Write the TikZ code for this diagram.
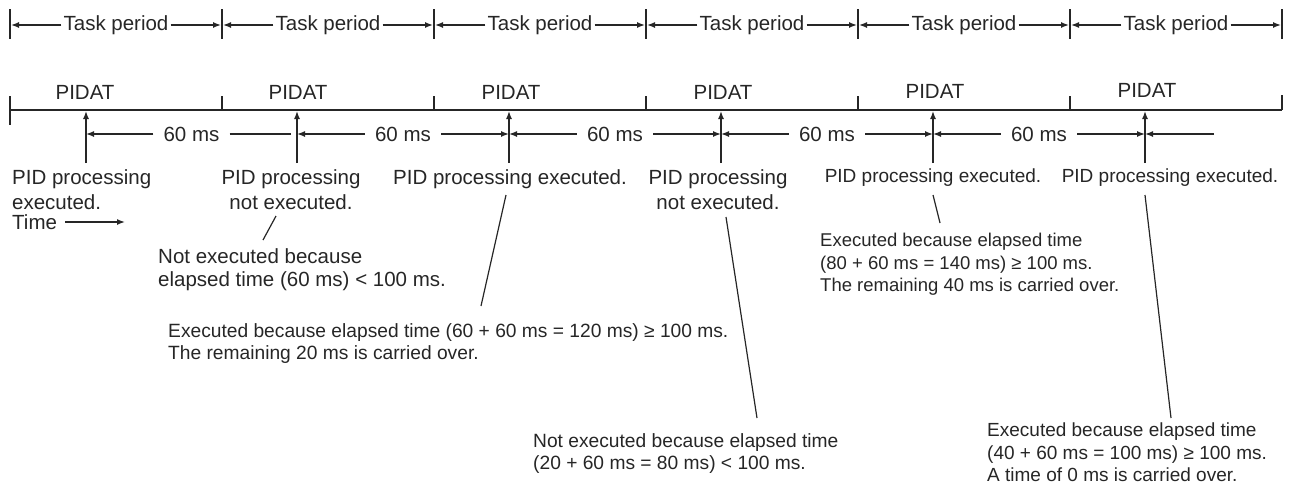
\documentclass[tikz,border=0pt]{standalone}
\usepackage{fontspec}
\setmainfont{Liberation Sans}
\usetikzlibrary{arrows.meta,calc}
\begin{document}
\begin{tikzpicture}[x=1pt,y=-1pt,
  ln/.style={line width=1.4pt, draw=black!85},
  tip/.style={-{Latex[length=8pt,width=6pt]}},
  big/.style={font=\fontsize{20.5}{25}\selectfont, inner sep=0pt, text=black!85},
  mid/.style={font=\fontsize{19}{23}\selectfont, inner sep=0pt, text=black!85},
  low/.style={font=\fontsize{19.2}{22.5}\selectfont, inner sep=0pt, align=left, anchor=north west, text=black!85},
  leader/.style={line width=1.2pt, draw=black!85}]
\useasboundingbox (0,0) rectangle (1293,493);
% top task periods
\foreach \x in {10,222,434,646,858,1070,1282}{\draw[ln] (\x,9) -- (\x,39);}
\foreach \a/\b [count=\i] in {10/222,222/434,434/646,646/858,858/1070,1070/1282}{
  \node[big, inner xsep=2pt] (tp\i) at ({(\a+\b)/2},25) {Task period};
  \coordinate (tl\i) at (\a+1,25);
  \coordinate (tr\i) at (\b-1,25);
  \draw[ln,tip] (tp\i.west) -- (tl\i);
  \draw[ln,tip] (tp\i.east) -- (tr\i);
}
% time line
\coordinate (t0) at (10,110);
\coordinate (t6) at (1282,110);
\draw[ln] (t0) -- (t6);
\draw[ln] (10,96) -- (10,125);
\foreach \x in {222,434,646,858,1070}{\draw[ln] (\x,96) -- (\x,110);}
\draw[ln] (1282,95) -- (1282,110);
% PIDAT labels
\foreach \x/\y [count=\i] in {85/92,298/92,511/92,723/92,935/91,1147/90}{
  \node[big] (pd\i) at (\x,\y) {PIDAT};
}
% up arrows
\foreach \x [count=\i] in {86,297,509,721,933,1145}{
  \coordinate (ub\i) at (\x,163);
  \coordinate (ut\i) at (\x,111);
  \coordinate (um\i) at (\x,134);
  \draw[ln,tip] (ub\i) -- (ut\i);
}
% 60 ms dimensions
\foreach \i/\j in {1/2,2/3,3/4,4/5,5/6}{
  \node[big, inner xsep=10pt] (ms\i) at ($(um\i)!0.5!(um\j)$) {60 ms};
}
\coordinate (ms1r) at (291,134);
\draw[ln,tip] (ms1.west) -- (um1);
\draw[ln] (ms1.east) -- (ms1r);
\foreach \i in {2,3,4,5}{
  \draw[ln,tip] (ms\i.west) -- (um\i);
}
\draw[ln,tip] (ms2.east) -- (um3);
\draw[ln,tip] (ms3.east) -- (um4);
\draw[ln,tip] (ms4.east) -- (um5);
\draw[ln,tip] (ms5.east) -- (um6);
\coordinate (msend) at (1214,134);
\draw[ln,tip] (msend) -- (um6);
% upper labels
\node[big, align=left, anchor=north west] (p1) at (12,169) {PID processing\\executed.};
\node[big, anchor=west] (time) at (12,222) {Time};
\coordinate (timeend) at (125,222);
\draw[ln,tip] ([xshift=8pt]time.east) -- (timeend);
\node[big, align=center, anchor=north] (p2) at (291,169) {PID processing\\not executed.};
\node[big, anchor=north] (p3) at (510,169) {PID processing executed.};
\node[big, align=center, anchor=north] (p4) at (718,169) {PID processing\\not executed.};
\node[mid, anchor=north] (p5) at (933,169) {PID processing executed.};
\node[mid, anchor=north] (p6) at (1170,169) {PID processing executed.};
% lower notes
\node[low, font=\fontsize{20.5}{23}\selectfont] (nA) at (158,248) {Not executed because\\elapsed time (60 ms) < 100 ms.};
\node[low] (nB) at (168,323) {Executed because elapsed time (60 + 60 ms = 120 ms) ≥ 100 ms.\\The remaining 20 ms is carried over.};
\node[low] (nC) at (533,433) {Not executed because elapsed time\\(20 + 60 ms = 80 ms) < 100 ms.};
\node[low, font=\fontsize{18.5}{22.5}\selectfont] (nD) at (820,233) {Executed because elapsed time\\(80 + 60 ms = 140 ms) ≥ 100 ms.\\The remaining 40 ms is carried over.};
\node[low, font=\fontsize{19}{22.5}\selectfont] (nE) at (987,423) {Executed because elapsed time\\(40 + 60 ms = 100 ms) ≥ 100 ms.\\A time of 0 ms is carried over.};
% leaders
\coordinate (a1) at (276,216); \coordinate (a2) at (263,240);
\draw[leader] (a1) -- (a2);
\coordinate (b1) at (506,195); \coordinate (b2) at (481,306);
\draw[leader] (b1) -- (b2);
\coordinate (c1) at (726,217); \coordinate (c2) at (757,418);
\draw[leader] (c1) -- (c2);
\coordinate (d1) at (933,195); \coordinate (d2) at (940,223);
\draw[leader] (d1) -- (d2);
\coordinate (e1) at (1145,195); \coordinate (e2) at (1171,418);
\draw[leader] (e1) -- (e2);
\end{tikzpicture}
\end{document}
